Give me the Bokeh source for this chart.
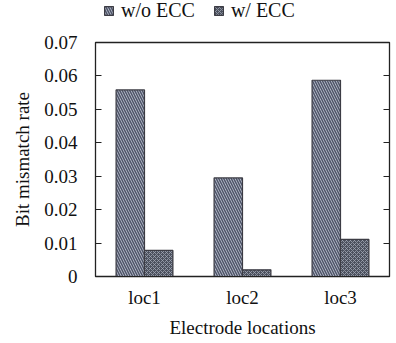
from bokeh.plotting import figure
from bokeh.models import FactorRange, Range1d, ColumnDataSource, FixedTicker, LinearAxis, Legend, LegendItem
from bokeh.layouts import column
from bokeh.transform import dodge
from bokeh.embed import file_html
from bokeh.resources import INLINE

locations = ["loc1", "loc2", "loc3"]
wo_ecc = [0.0558, 0.0295, 0.0587]
w_ecc = [0.0078, 0.0020, 0.0111]
y_ticks = [0, 0.01, 0.02, 0.03, 0.04, 0.05, 0.06, 0.07]
y_tick_labels = ["0", "0.01", "0.02", "0.03", "0.04", "0.05", "0.06", "0.07"]
series_names = ["w/o ECC", "w/ ECC"]

FONT = "Liberation Serif"
src = ColumnDataSource(dict(loc=locations, wo=wo_ecc, w=w_ecc))

WO_STYLE = dict(fill_color="#c3c9d6", line_color="#3c3c44", line_width=1.2,
                hatch_pattern="\\", hatch_color="#50566a", hatch_scale=5, hatch_weight=1.6)
W_STYLE = dict(fill_color="#4c515e", line_color="#3c3c44", line_width=1.2,
               hatch_pattern="x", hatch_color="#a0a6b4", hatch_scale=4, hatch_weight=0.8)

# ---------- main chart ----------
p = figure(x_range=FactorRange(*locations, range_padding=0), y_range=(0, 0.07),
           width=396, height=313, output_backend="svg", toolbar_location=None,
           min_border_left=95, min_border_right=7, min_border_top=12, min_border_bottom=67)

p.vbar(x=dodge("loc", -0.145, range=p.x_range), top="wo", width=0.29, source=src, **WO_STYLE)
p.vbar(x=dodge("loc", 0.145, range=p.x_range), top="w", width=0.29, source=src, **W_STYLE)

p.grid.visible = False
p.outline_line_color = "#222222"
p.outline_line_width = 1.3
p.background_fill_color = "white"
p.border_fill_color = "white"

yax = p.yaxis[0]
yax.ticker = FixedTicker(ticks=y_ticks)
yax.major_label_overrides = {t: l for t, l in zip(y_ticks, y_tick_labels)}
yax.major_tick_in = 6
yax.major_tick_out = 0
yax.minor_tick_line_color = None
yax.axis_line_color = "#222222"
yax.major_tick_line_color = "#222222"
yax.major_label_text_font = FONT
yax.major_label_text_font_size = "19px"
yax.major_label_text_color = "#111111"
yax.major_label_standoff = 18
yax.axis_label = "Bit mismatch rate"
yax.axis_label_text_font = FONT
yax.axis_label_text_font_style = "normal"
yax.axis_label_text_font_size = "19px"
yax.axis_label_text_color = "#111111"
yax.axis_label_standoff = 8

rax = LinearAxis(ticker=FixedTicker(ticks=y_ticks))
rax.major_tick_in = 6
rax.major_tick_out = 0
rax.minor_tick_line_color = None
rax.major_label_text_font_size = "0px"
rax.major_label_text_color = None
rax.axis_line_color = "#222222"
rax.major_tick_line_color = "#222222"
p.add_layout(rax, "right")

xax = p.xaxis[0]
xax.major_tick_line_color = None
xax.major_tick_in = 0
xax.major_tick_out = 0
xax.axis_line_color = "#222222"
xax.major_label_text_font = FONT
xax.major_label_text_font_size = "19px"
xax.major_label_text_color = "#111111"
xax.major_label_standoff = 10
xax.axis_label = "Electrode locations"
xax.axis_label_text_font = FONT
xax.axis_label_text_font_style = "normal"
xax.axis_label_text_font_size = "19px"
xax.axis_label_text_color = "#111111"
xax.axis_label_standoff = 6

# ---------- legend strip on top ----------
lg = figure(x_range=FactorRange(*locations), y_range=Range1d(1, 2),
            width=396, height=30, output_backend="svg", toolbar_location=None,
            min_border=0, x_axis_location=None, y_axis_location=None)
lg.grid.visible = False
lg.outline_line_color = None
lg.border_fill_color = "white"
lr1 = lg.vbar(x="loc", top="wo", width=0.29, source=src, **WO_STYLE)
lr2 = lg.vbar(x="loc", top="w", width=0.29, source=src, **W_STYLE)

legend = Legend(items=[LegendItem(label=series_names[0], renderers=[lr1]),
                       LegendItem(label=series_names[1], renderers=[lr2])],
                orientation="horizontal", location=(8, 8),
                label_text_font=FONT, label_text_font_size="20px", label_text_color="#111111",
                glyph_width=11, glyph_height=11, spacing=18, label_standoff=7,
                label_height=20, padding=1, margin=0,
                border_line_color=None, background_fill_alpha=0)
lg.add_layout(legend, "center")

layout = column(lg, p, spacing=0)
open("out.html", "w").write(file_html(layout, INLINE))
